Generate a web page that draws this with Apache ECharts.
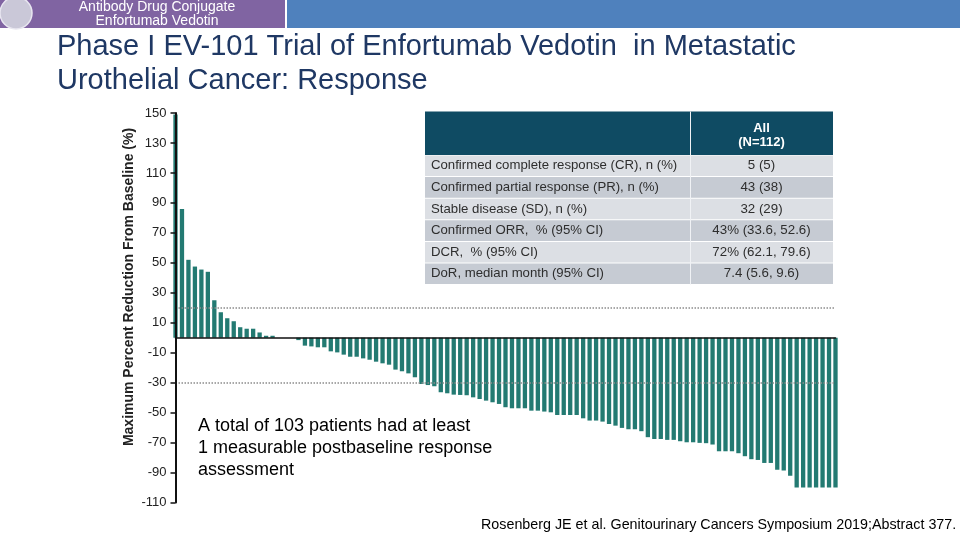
<!DOCTYPE html>
<html><head><meta charset="utf-8">
<script src="https://cdn.jsdelivr.net/npm/echarts@6/dist/echarts.min.js"></script>
<style>html,body{margin:0;padding:0;background:#fff}#c{width:960px;height:540px}</style>
</head><body><div id="c"></div>
<script>
// Maximum percent reduction from baseline, one bar per patient (n=103)
const maxReduction = [
  149, 86, 52, 47.5, 45.5, 44, 25, 17, 13, 11,
  7, 6, 6, 3.5, 1.3, 1.3, 0, 0, 0, -1.6,
  -5.3, -5.8, -6.4, -6.4, -9.1, -9.8, -11.3, -12.7, -12.7, -13.8,
  -14.7, -16, -17.1, -18, -21.3, -22.4, -23.8, -26.4, -30.9, -31.6,
  -32.4, -36.4, -37.1, -38, -38.2, -38.4, -39.8, -40.9, -42, -43.1,
  -44.2, -46.4, -47.1, -47.1, -47.1, -48.7, -48.7, -49.3, -49.8, -51.6,
  -51.6, -51.6, -51.6, -53.8, -55.3, -55.3, -56, -57.6, -58.7, -60.2,
  -61.1, -61.1, -62.4, -66.4, -67.6, -67.6, -68.2, -68.2, -69.1, -69.8,
  -69.8, -70.2, -70.4, -71.3, -75.8, -75.8, -75.8, -77.1, -79.1, -81.1,
  -81.6, -83.6, -83.6, -88.2, -88.7, -92.2, -100, -100, -100, -100,
  -100, -100, -100
];
const categories = maxReduction.map((v, i) => 'P' + (i + 1));
const yMin = -110, yMax = 150, yInterval = 20;
const referenceLines = [20, -30];

const headerLines = ['Antibody Drug Conjugate', 'Enfortumab Vedotin'];
const titleLines = ['Phase I EV-101 Trial of Enfortumab Vedotin  in Metastatic', 'Urothelial Cancer: Response'];
const yAxisName = 'Maximum Percent Reduction From Baseline (%)';
const tableHeader = ['All', '(N=112)'];
const tableLabels = [
  'Confirmed complete response (CR), n (%)',
  'Confirmed partial response (PR), n (%)',
  'Stable disease (SD), n (%)',
  'Confirmed ORR,  % (95% CI)',
  'DCR,  % (95% CI)',
  'DoR, median month (95% CI)'
];
const tableValues = ['5 (5)', '43 (38)', '32 (29)', '43% (33.6, 52.6)', '72% (62.1, 79.6)', '7.4 (5.6, 9.6)'];
const noteLines = ['A total of 103 patients had at least', '1 measurable postbaseline response', 'assessment'];
const citation = 'Rosenberg JE et al. Genitourinary Cancers Symposium 2019;Abstract 377.';

const FONT = '"Liberation Sans", Arial, sans-serif';
const graphic = [];
// top banner
graphic.push({type:'rect', shape:{x:0,y:0,width:285,height:28}, style:{fill:'#8064a2'}});
graphic.push({type:'rect', shape:{x:287,y:0,width:673,height:28}, style:{fill:'#4f81bd'}});
graphic.push({type:'circle', shape:{cx:16,cy:13,r:16}, style:{fill:'#cac8d8', stroke:'#e8e6f0', lineWidth:1.5}});
headerLines.forEach((t, i) => graphic.push({type:'text', x:157, y:7 + i*14, style:{text:t, fill:'#fff', font:'14px ' + FONT, textAlign:'center', textVerticalAlign:'middle'}}));
// title
titleLines.forEach((t, i) => graphic.push({type:'text', x:57, y:47 + i*34, style:{text:t, fill:'#1f3864', font:'29px ' + FONT, textAlign:'left', textVerticalAlign:'middle'}}));
// y axis name
graphic.push({type:'text', x:129, y:287, rotation:Math.PI/2, style:{text:yAxisName, fill:'#222', font:'bold 14px ' + FONT, textAlign:'center', textVerticalAlign:'middle'}});
// table
const tX = 425, tW = 408, tY = 111.5, hH = 43.5, rH = 21.6, divX = 690;
graphic.push({type:'rect', shape:{x:tX,y:tY,width:tW,height:hH}, style:{fill:'#0f4b63'}});
tableHeader.forEach((t, i) => graphic.push({type:'text', x:(divX + tX + tW)/2, y:tY + 16.5 + i*14.5, style:{text:t, fill:'#fff', font:'bold 13px ' + FONT, textAlign:'center', textVerticalAlign:'middle'}}));
tableLabels.forEach((t, i) => {
  const y = tY + hH + i*rH;
  graphic.push({type:'rect', shape:{x:tX,y:y+0.5,width:tW,height:rH-1}, style:{fill: i % 2 === 0 ? '#dcdfe4' : '#c6cbd3'}});
  graphic.push({type:'text', x:tX + 6, y:y + rH/2, style:{text:t, fill:'#2e2e2e', font:'13.2px ' + FONT, textAlign:'left', textVerticalAlign:'middle'}});
  graphic.push({type:'text', x:(divX + tX + tW)/2, y:y + rH/2, style:{text:tableValues[i], fill:'#2e2e2e', font:'13.3px ' + FONT, textAlign:'center', textVerticalAlign:'middle'}});
});
graphic.push({type:'rect', shape:{x:divX,y:tY,width:1,height:hH + rH*tableLabels.length}, style:{fill:'#f0f2f5'}});
// annotation
noteLines.forEach((t, i) => graphic.push({type:'text', x:198, y:426 + i*22, style:{text:t, fill:'#000', font:'18px ' + FONT, textAlign:'left', textVerticalAlign:'middle'}}));
graphic.push({type:'text', x:481, y:525, style:{text:citation, fill:'#000', font:'14.3px ' + FONT, textAlign:'left', textVerticalAlign:'middle'}});

const chart = echarts.init(document.getElementById('c'));
chart.setOption({
  animation:false,
  backgroundColor:'#fff',
  grid:{left:175.5, right:124.5, top:113, bottom:37.5, containLabel:false},
  xAxis:{type:'category', data:categories, boundaryGap:false, z:10,
    axisLine:{onZero:true, lineStyle:{color:'#111', width:1.5}},
    axisTick:{show:false}, axisLabel:{show:false}, splitLine:{show:false}},
  yAxis:{type:'value', min:yMin, max:yMax, interval:yInterval, z:10,
    axisLine:{show:true, lineStyle:{color:'#111', width:2}},
    axisTick:{show:true, length:5, lineStyle:{color:'#111', width:1.5}},
    axisLabel:{color:'#222', fontSize:13, fontFamily:FONT, margin:9},
    splitLine:{show:false}},
  series:[{type:'bar', data:maxReduction, barWidth:4.3, itemStyle:{color:'#237a72'},
    markLine:{silent:true, symbol:'none', label:{show:false},
      lineStyle:{type:'dotted', color:'#8c8c8c', width:1.5},
      data:referenceLines.map(v => ({yAxis:v}))}}],
  graphic:graphic
});
</script></body></html>
